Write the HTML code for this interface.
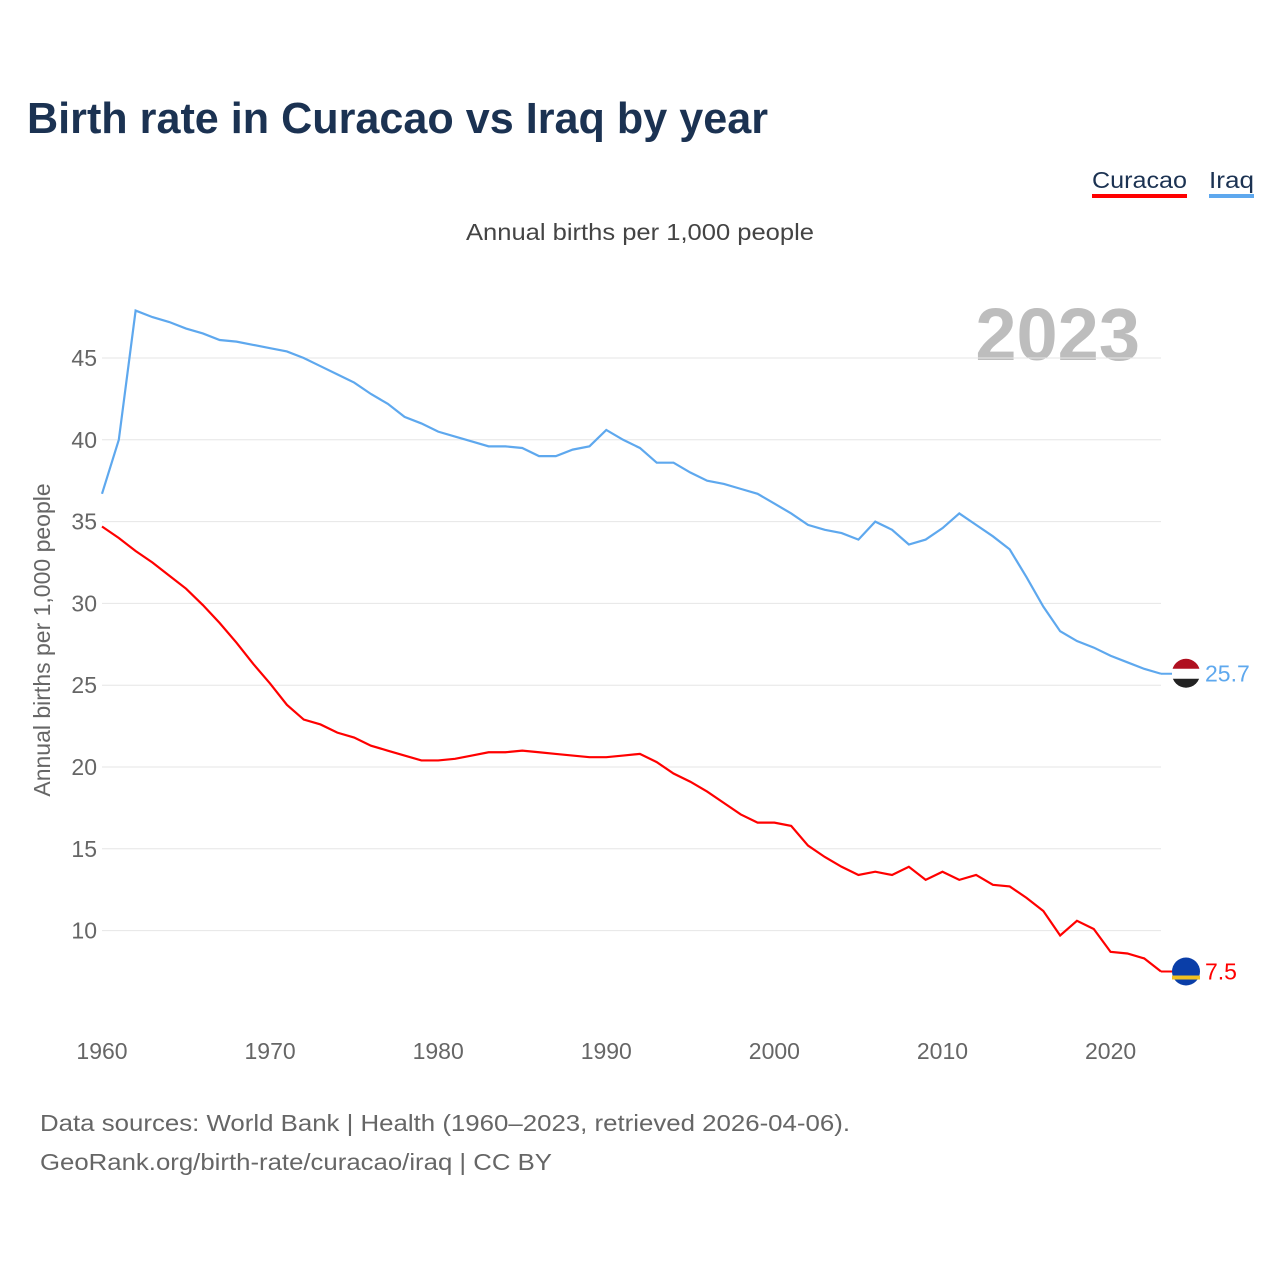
<!DOCTYPE html>
<html><head><meta charset="utf-8"><style>
body{margin:0;background:#fff;font-family:"Liberation Sans",sans-serif;}
svg{display:block}
</style></head><body>
<svg id="chart" width="1280" height="1280" xmlns="http://www.w3.org/2000/svg">
<text x="27" y="133" font-size="44" font-weight="bold" fill="#1b3252" textLength="741" lengthAdjust="spacingAndGlyphs">Birth rate in Curacao vs Iraq by year</text>
<g>
<text x="1092" y="188" font-size="23" fill="#1b3252" textLength="95" lengthAdjust="spacingAndGlyphs">Curacao</text>
<rect x="1092" y="194" width="95" height="4" fill="#ff0000"/>
<text x="1209" y="188" font-size="23" fill="#1b3252" textLength="45" lengthAdjust="spacingAndGlyphs">Iraq</text>
<rect x="1209" y="194" width="45" height="4" fill="#5ea8ee"/>
</g>
<text x="466" y="240" font-size="23" fill="#444" textLength="348" lengthAdjust="spacingAndGlyphs">Annual births per 1,000 people</text>
<text x="1140" y="360" font-size="74" font-weight="bold" fill="#bdbdbd" text-anchor="end">2023</text>
<text transform="translate(50,640) rotate(-90)" font-size="23" fill="#666" text-anchor="middle">Annual births per 1,000 people</text>
<g id="grid"></g><g id="yt"></g><g id="xt"></g><g id="lines"></g>
<text x="40" y="1131" font-size="23" fill="#666" textLength="810" lengthAdjust="spacingAndGlyphs">Data sources: World Bank | Health (1960–2023, retrieved 2026-04-06).</text>
<text x="40" y="1170" font-size="23" fill="#666" textLength="512" lengthAdjust="spacingAndGlyphs">GeoRank.org/birth-rate/curacao/iraq | CC BY</text>
</svg>
<script>
const years=[];for(let y=1960;y<=2023;y++)years.push(y);
const yTicks=[10,15,20,25,30,35,40,45];
const xTicks=[1960,1970,1980,1990,2000,2010,2020];
const iraq=[36.7,40.0,47.9,47.5,47.2,46.8,46.5,46.1,46.0,45.8,45.6,45.4,45.0,44.5,44.0,43.5,42.8,42.2,41.4,41.0,40.5,40.2,39.9,39.6,39.6,39.5,39.0,39.0,39.4,39.6,40.6,40.0,39.5,38.6,38.6,38.0,37.5,37.3,37.0,36.7,36.1,35.5,34.8,34.5,34.3,33.9,35.0,34.5,33.6,33.9,34.6,35.5,34.8,34.1,33.3,31.6,29.8,28.3,27.7,27.3,26.8,26.4,26.0,25.7];
const curacao=[34.7,34.0,33.2,32.5,31.7,30.9,29.9,28.8,27.6,26.3,25.1,23.8,22.9,22.6,22.1,21.8,21.3,21.0,20.7,20.4,20.4,20.5,20.7,20.9,20.9,21.0,20.9,20.8,20.7,20.6,20.6,20.7,20.8,20.3,19.6,19.1,18.5,17.8,17.1,16.6,16.6,16.4,15.2,14.5,13.9,13.4,13.6,13.4,13.9,13.1,13.6,13.1,13.4,12.8,12.7,12.0,11.2,9.7,10.6,10.1,8.7,8.6,8.3,7.5];
const NS='http://www.w3.org/2000/svg';
const X=y=>102+(y-1960)*(1161-102)/63;
const Y=v=>767-(v-20)*16.36;
function mk(t,a,p){const e=document.createElementNS(NS,t);for(const k in a)e.setAttribute(k,a[k]);p.appendChild(e);return e;}
const grid=document.getElementById('grid'),yt=document.getElementById('yt'),xt=document.getElementById('xt'),L=document.getElementById('lines');
yTicks.forEach(v=>{
 const l=mk('line',{x1:102,x2:1161,y1:Y(v),y2:Y(v),stroke:'#e6e6e6','stroke-width':1},grid);
 
 
 const t=mk('text',{x:97,y:Y(v)+8,'font-size':23,fill:'#666','text-anchor':'end'},yt);t.textContent=v;
 
 
});
xTicks.forEach(v=>{
 const t=mk('text',{x:X(v),y:1059,'font-size':23,fill:'#666','text-anchor':'middle'},xt);t.textContent=v;
 
 
});
function series(arr,col,name){
 const p=mk('polyline',{points:arr.map((v,i)=>X(years[i])+','+Y(v)).join(' '),fill:'none',stroke:col,'stroke-width':2.2},L);
 
 
 const last=arr[arr.length-1],ly=Y(last);
 mk('line',{x1:1161,x2:1175,y1:ly,y2:ly,stroke:col,'stroke-width':2},L);
 const c=mk('circle',{cx:1186,cy:ly,r:14,fill:name==='iraq'?'#222':'#0a3ea8'},L);
 
 
 if(name==='iraq'){mk('path',{d:`M1172 ${ly-1} A14 14 0 0 1 1200 ${ly-1} Z`,fill:'#b01020'},L);mk('rect',{x:1172,y:ly-5,width:28,height:10,fill:'#fff'},L);}
 else{mk('rect',{x:1172,y:ly+4,width:28,height:4,fill:'#f0c020'},L);}
 const t=mk('text',{x:1205,y:ly+8,'font-size':23,fill:col},L);t.textContent=last;
 
 
}
series(iraq,'#5ea8ee','iraq');
series(curacao,'#ff0000','curacao');
</script>
</body></html>
